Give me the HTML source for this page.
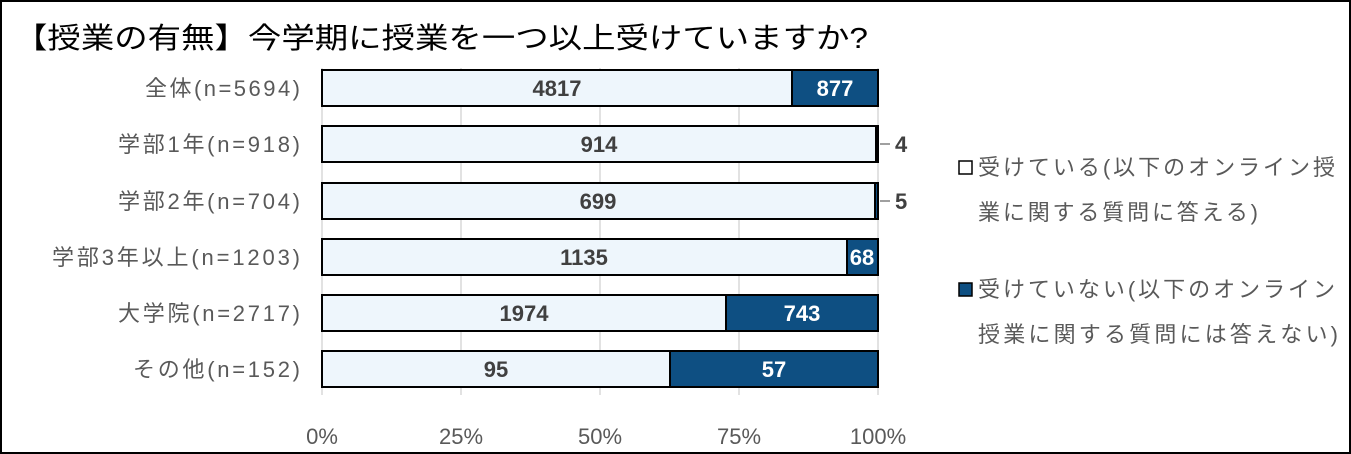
<!DOCTYPE html>
<html><head><meta charset="utf-8"><style>
body{margin:0;background:#fff}
svg{display:block}
text{font-family:"Liberation Sans","Noto Sans CJK JP",sans-serif}
</style></head><body>
<svg width="1351" height="454" xmlns="http://www.w3.org/2000/svg">
<rect x="1" y="1" width="1349" height="452" fill="#fff" stroke="#000" stroke-width="2"/>
<text x="14" y="48" font-size="29" fill="#000" textLength="854" lengthAdjust="spacingAndGlyphs">【授業の有無】今学期に授業を一つ以上受けていますか?</text>
<g stroke="#d9d9d9" stroke-width="1.5">
<line x1="322" y1="68" x2="322" y2="395"/><line x1="461" y1="68" x2="461" y2="395"/>
<line x1="600" y1="68" x2="600" y2="395"/><line x1="739" y1="68" x2="739" y2="395"/>
<line x1="878" y1="68" x2="878" y2="395"/>
</g>
<g stroke="#000" stroke-width="2">
<rect x="322" y="70" width="470" height="36" fill="#eef6fc"/><rect x="792" y="70" width="86" height="36" fill="#0e4f82"/>
<rect x="322" y="126" width="554" height="36" fill="#eef6fc"/><rect x="876" y="126" width="2" height="36" fill="#0e4f82"/>
<rect x="322" y="183" width="553" height="36" fill="#eef6fc"/><rect x="875" y="183" width="3" height="36" fill="#0e4f82"/>
<rect x="322" y="239" width="525" height="36" fill="#eef6fc"/><rect x="847" y="239" width="31" height="36" fill="#0e4f82"/>
<rect x="322" y="295" width="404" height="36" fill="#eef6fc"/><rect x="726" y="295" width="152" height="36" fill="#0e4f82"/>
<rect x="322" y="351" width="348" height="36" fill="#eef6fc"/><rect x="670" y="351" width="208" height="36" fill="#0e4f82"/>
</g>
<g font-size="22" font-weight="bold" text-anchor="middle" fill="#404040">
<text x="557" y="96">4817</text><text x="599" y="152">914</text><text x="598" y="209">699</text>
<text x="584" y="265">1135</text><text x="524" y="321">1974</text><text x="496" y="377">95</text>
</g>
<g font-size="22" font-weight="bold" text-anchor="middle" fill="#fff">
<text x="835" y="96">877</text><text x="862" y="265">68</text><text x="802" y="321">743</text><text x="774" y="377">57</text>
</g>
<g stroke="#808080" stroke-width="1.5"><line x1="880" y1="144" x2="890" y2="144"/><line x1="880" y1="201" x2="890" y2="201"/></g>
<g font-size="22" font-weight="bold" fill="#404040"><text x="895" y="152">4</text><text x="895" y="209">5</text></g>
<g font-size="22" fill="#595959" text-anchor="end" lengthAdjust="spacingAndGlyphs">
<text x="300" y="96" textLength="155">全体(n=5694)</text><text x="300" y="152" textLength="182">学部1年(n=918)</text>
<text x="300" y="209" textLength="182">学部2年(n=704)</text><text x="300" y="265" textLength="248">学部3年以上(n=1203)</text>
<text x="300" y="321" textLength="182">大学院(n=2717)</text><text x="300" y="377" textLength="167">その他(n=152)</text>
</g>
<g font-size="22" fill="#595959" text-anchor="middle">
<text x="322" y="444">0%</text><text x="461" y="444">25%</text><text x="600" y="444">50%</text>
<text x="739" y="444">75%</text><text x="878" y="444">100%</text>
</g>
<rect x="959" y="161" width="13" height="13" fill="#fff" stroke="#000" stroke-width="1.5"/>
<rect x="959" y="283" width="13" height="13" fill="#0e4f82" stroke="#000" stroke-width="1.5"/>
<g font-size="22" fill="#595959" lengthAdjust="spacingAndGlyphs">
<text x="978" y="175" textLength="357">受けている(以下のオンライン授</text>
<text x="978" y="220" textLength="280">業に関する質問に答える)</text>
<text x="978" y="297" textLength="357">受けていない(以下のオンライン</text>
<text x="978" y="342" textLength="360">授業に関する質問には答えない)</text>
</g>
</svg>
</body></html>
